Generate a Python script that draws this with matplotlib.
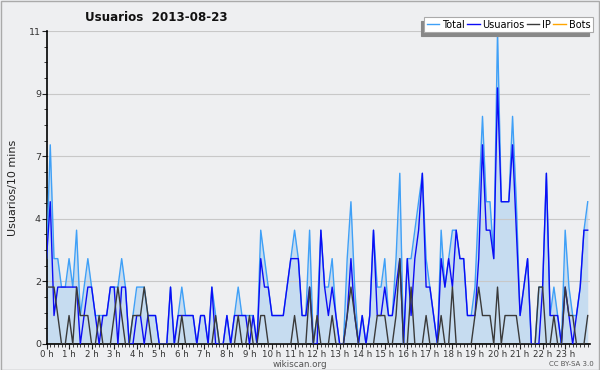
import numpy as np
import matplotlib
matplotlib.use("Agg")
import matplotlib.pyplot as plt
from matplotlib.patches import Rectangle

# Usuarios por intervalo de 10 minutos, 2013-08-23
total = [3, 7, 3, 3, 2, 2, 3, 2, 4, 1, 2, 3, 2, 1, 1, 1, 1, 2,
         2, 2, 3, 2, 0, 1, 2, 2, 2, 1, 1, 1, 0, 0, 0, 2, 0, 1,
         2, 1, 1, 1, 0, 1, 1, 0, 2, 1, 0, 0, 1, 0, 1, 2, 1, 1,
         1, 1, 0, 4, 3, 2, 1, 1, 1, 1, 2, 3, 4, 3, 1, 1, 4, 0,
         1, 4, 2, 2, 3, 1, 0, 0, 3, 5, 2, 0, 1, 0, 1, 4, 2, 2,
         3, 1, 1, 3, 6, 0, 3, 3, 4, 5, 6, 3, 2, 1, 0, 4, 2, 3,
         4, 4, 3, 3, 1, 1, 2, 5, 8, 5, 5, 3, 11, 5, 5, 5, 8, 5,
         1, 2, 3, 0, 0, 2, 2, 6, 1, 2, 1, 0, 4, 2, 1, 1, 2, 4, 5]
usuarios = [3, 5, 1, 2, 2, 2, 2, 2, 2, 0, 1, 2, 2, 1, 0, 1, 1, 2,
            2, 0, 2, 2, 0, 0, 1, 1, 0, 1, 1, 1, 0, 0, 0, 2, 0, 1,
            1, 1, 1, 1, 0, 1, 1, 0, 2, 0, 0, 0, 1, 0, 1, 1, 1, 1,
            0, 1, 0, 3, 2, 2, 1, 1, 1, 1, 2, 3, 3, 3, 1, 1, 2, 0,
            0, 4, 2, 1, 2, 1, 0, 0, 1, 3, 1, 0, 1, 0, 1, 4, 1, 1,
            2, 1, 1, 2, 3, 0, 3, 1, 3, 4, 6, 2, 2, 1, 0, 3, 2, 3,
            2, 4, 3, 3, 1, 1, 1, 3, 7, 4, 4, 3, 9, 5, 5, 5, 7, 4,
            1, 2, 3, 0, 0, 0, 2, 6, 1, 1, 1, 0, 2, 1, 0, 1, 2, 4, 4]
ip = [2, 2, 2, 1, 0, 0, 1, 0, 2, 1, 1, 1, 0, 0, 1, 0, 0, 0,
      1, 2, 1, 0, 0, 1, 1, 1, 2, 1, 0, 0, 0, 0, 0, 0, 0, 0,
      1, 0, 0, 0, 0, 0, 0, 0, 0, 1, 0, 0, 0, 0, 0, 1, 0, 0,
      1, 0, 0, 1, 1, 0, 0, 0, 0, 0, 0, 0, 1, 0, 0, 0, 2, 0,
      1, 0, 0, 0, 1, 0, 0, 0, 1, 2, 1, 0, 0, 0, 0, 0, 1, 1,
      1, 0, 0, 1, 3, 0, 0, 2, 0, 0, 0, 1, 0, 0, 0, 1, 0, 0,
      2, 0, 0, 0, 0, 0, 1, 2, 1, 1, 1, 0, 2, 0, 1, 1, 1, 1,
      0, 0, 0, 0, 0, 2, 2, 0, 0, 1, 0, 0, 2, 1, 1, 0, 0, 0, 1]
bots = [0] * len(total)

hours = np.arange(len(total)) / 6.0
hour_labels = ["%d h" % h for h in range(24)]
ytick_vals = [0, 2.2, 4.4, 6.6, 8.8, 11]
ytick_labels = ["0", "2", "4", "7", "9", "11"]

bg = "#eeeff1"
fig = plt.figure(figsize=(6, 3.7), dpi=100, facecolor=bg)
ax = fig.add_axes([0.0775, 0.0703, 0.9058, 0.8459])
ax.set_facecolor(bg)

ax.fill_between(hours, total, 0, color="#c6dcf0", lw=0, zorder=1)
ax.plot(hours, bots, color="#ffa500", lw=1.0, zorder=2, label="Bots")
ax.plot(hours, total, color="#3fa0f7", lw=1.0, zorder=3, label="Total")
ax.plot(hours, usuarios, color="#0c0cf5", lw=1.0, zorder=4, label="Usuarios")
ax.plot(hours, ip, color="#3a3a3a", lw=1.0, zorder=5, label="IP")

ax.set_xlim(0, 24.1)
ax.set_ylim(0, 11)
ax.set_yticks(ytick_vals)
ax.set_yticklabels(ytick_labels)
ax.set_yticks(np.arange(0, 11.01, 0.55), minor=True)
ax.set_xticks(range(24))
ax.set_xticklabels(hour_labels)
ax.set_xticks(hours, minor=True)
ax.grid(axis="y", which="major", color="#c8c8c8", lw=0.8, zorder=0)
ax.tick_params(axis="both", which="major", labelsize=6.8, length=3.5, width=0.8,
               color="#222222", labelcolor="#333333", pad=0.5)
ax.tick_params(axis="x", which="major", labelsize=6.2)
ax.tick_params(axis="both", which="minor", length=2, width=0.6, color="#222222")

for s in ["top", "right"]:
    ax.spines[s].set_visible(False)
ax.spines["left"].set_linewidth(1.2)
ax.spines["bottom"].set_linewidth(1.2)

ax.set_ylabel("Usuarios/10 mins", fontsize=8, color="#222222", labelpad=8)
fig.text(0.142, 0.954, "Usuarios  2013-08-23", fontsize=8.6, fontweight="bold",
         ha="left", va="center", color="#111111")

h = ax.get_legend_handles_labels()
order = ["Total", "Usuarios", "IP", "Bots"]
handles = [h[0][h[1].index(n)] for n in order]
leg = fig.legend(handles, order, ncol=4, fontsize=7, loc="upper right",
                 bbox_to_anchor=(0.988, 0.953), frameon=True, fancybox=False,
                 shadow={"color": "#888888", "alpha": 1.0, "ox": -2.5, "oy": -2.5},
                 edgecolor="#aaaaaa",
                 handlelength=1.3, handletextpad=0.3, columnspacing=0.2,
                 borderpad=0.25, borderaxespad=0.0)
leg.get_frame().set_linewidth(0.8)

fig.text(0.5, 0.015, "wikiscan.org", fontsize=6.3, color="#555555", ha="center", va="center")
fig.text(0.99, 0.015, "CC BY-SA 3.0", fontsize=5, color="#555555", ha="right", va="center")

fig.patches.append(Rectangle((0.001, 0.001), 0.997, 0.997, transform=fig.transFigure,
                             fill=False, edgecolor="#aaaaaa", lw=1.0))

fig.savefig("out.png", dpi=100, facecolor=bg)
